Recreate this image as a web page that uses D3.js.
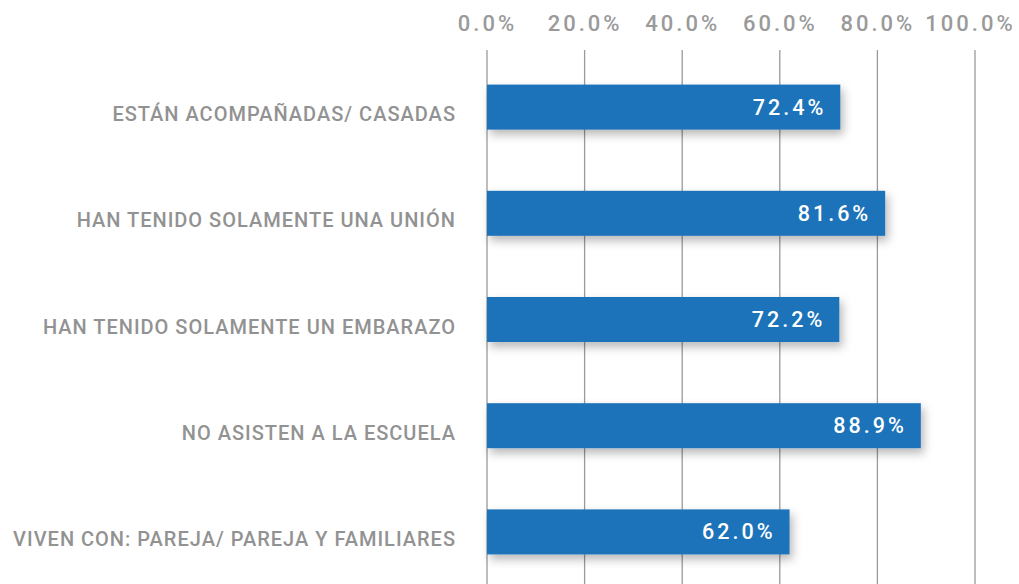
<!DOCTYPE html>
<html>
<head>
<meta charset="utf-8">
<script src="https://cdn.jsdelivr.net/npm/d3@7"></script>
<style>
  html, body { margin: 0; padding: 0; background: #fff; }
  svg { display: block; }
</style>
</head>
<body>
<svg id="chart" width="1019" height="584"></svg>
<script>
const categories = [
  "ESTÁN ACOMPAÑADAS/ CASADAS",
  "HAN TENIDO SOLAMENTE UNA UNIÓN",
  "HAN TENIDO SOLAMENTE UN EMBARAZO",
  "NO ASISTEN A LA ESCUELA",
  "VIVEN CON: PAREJA/ PAREJA Y FAMILIARES"
];
const values = [72.4, 81.6, 72.2, 88.9, 62.0];
const tickValues = [0, 20, 40, 60, 80, 100];

const svg = d3.select("#chart");
const W = 1019, H = 584;

const x = d3.scaleLinear().domain([0, 100]).range([487, 975]);
const y = d3.scaleBand().domain(categories).range([54, 585]).paddingInner(0.576).paddingOuter(0.288);

const defs = svg.append("defs");
const f = defs.append("filter").attr("id", "shadow")
  .attr("x", "-10%").attr("y", "-60%").attr("width", "125%").attr("height", "240%");
f.append("feDropShadow").attr("dx", 3).attr("dy", 5).attr("stdDeviation", 5)
  .attr("flood-color", "#000").attr("flood-opacity", 0.28);

// Gridlines
svg.append("g").selectAll("line").data(tickValues).join("line")
  .attr("x1", d => x(d)).attr("x2", d => x(d))
  .attr("y1", 50).attr("y2", H)
  .attr("stroke", "#9a9a9a").attr("stroke-width", 1.3);

// Top axis labels
const axis = d3.axisTop(x).tickValues(tickValues).tickSize(0).tickPadding(0)
  .tickFormat(d => d3.format(".1f")(d) + "%");
const gA = svg.append("g").attr("transform", "translate(0,31)").call(axis);
gA.select(".domain").remove();
gA.selectAll("text")
  .attr("fill", "#9a9a9a")
  .attr("dx", (d, i) => i === tickValues.length - 1 ? -5 : 0)
  .style("font-family", "Roboto, sans-serif")
  .style("font-size", "22px")
  .style("font-weight", "500")
  .style("letter-spacing", "3px");

// Bars
svg.append("g").selectAll("rect").data(values).join("rect")
  .attr("x", x(0))
  .attr("y", (d, i) => y(categories[i]))
  .attr("width", d => x(d) - x(0))
  .attr("height", y.bandwidth())
  .attr("fill", "#1f73ba")
  .attr("filter", "url(#shadow)");

// Value labels
svg.append("g").selectAll("text").data(values).join("text")
  .attr("x", d => x(d) - 14)
  .attr("y", (d, i) => y(categories[i]) + y.bandwidth() / 2 + 7.5)
  .attr("text-anchor", "end")
  .attr("fill", "#fff")
  .style("font-family", "Roboto, sans-serif")
  .style("font-size", "21.5px")
  .style("font-weight", "500")
  .style("letter-spacing", "3px")
  .text(d => d3.format(".1f")(d) + "%");

// Category labels
svg.append("g").selectAll("text").data(categories).join("text")
  .attr("x", 456)
  .attr("y", d => y(d) + y.bandwidth() / 2 + 14)
  .attr("text-anchor", "end")
  .attr("fill", "#929292")
  .style("font-family", "Roboto, sans-serif")
  .style("font-size", "20px")
  .style("font-weight", "500")
  .style("letter-spacing", "1px")
  .text(d => d);
</script>
</body>
</html>
